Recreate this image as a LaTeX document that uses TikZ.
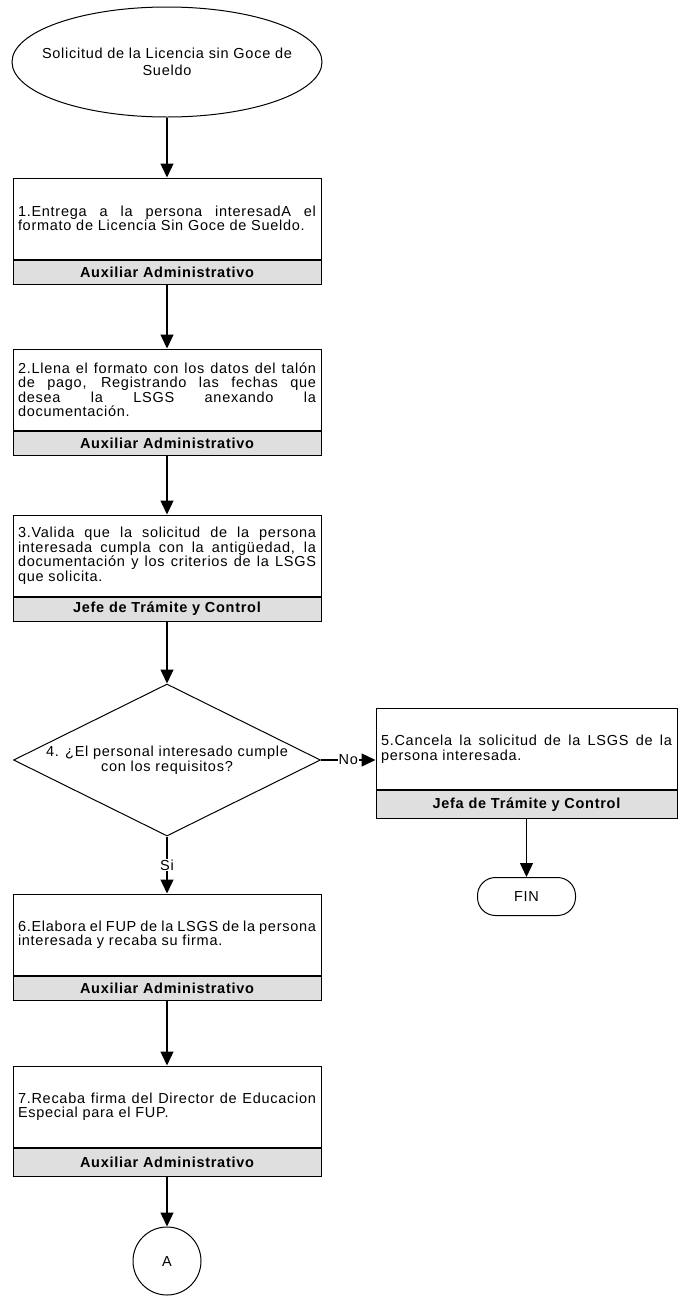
\documentclass[tikz,border=0pt]{standalone}
\usepackage{fontspec}
\setmainfont{Liberation Sans}[LetterSpace=5]
\usetikzlibrary{arrows.meta, shapes, shapes.geometric, positioning}
\hyphenpenalty=10000

\begin{document}
\begin{tikzpicture}[
        x=1pt, y=-1pt,
        every node/.style={align=center, font=\fontsize{14.5}{14.5}\selectfont},
        line/.style={-{Triangle[width=13pt,length=14pt]}, line width=1.3pt},
        task/.style={draw, line width=1pt, text width=298pt, inner xsep=5pt, minimum height=81pt, align=justify},
        role/.style={draw, line width=1pt, fill=gray!25, minimum width=308pt, minimum height=24pt, inner sep=0pt, font=\fontsize{14.5}{14.5}\selectfont\bfseries, below=0pt of #1},
    ]
    \useasboundingbox (0,0) rectangle (678,1302);
    % Nodes
    \node[ellipse, draw, line width=1pt, inner xsep=-20pt, inner ysep=0pt, minimum width=310pt, minimum height=110pt, font=\fontsize{14.5}{17}\selectfont] (inicio) at (167,62) {Solicitud de la Licencia sin Goce de\\Sueldo};
    \node[task, below=60pt of inicio] (t1) {1.Entrega a la persona interesadA el\linebreak formato de Licencia Sin Goce de Sueldo.};
    \node[role=t1] (r1) {Auxiliar Administrativo};
    \node[task, below=64pt of r1] (t2) {2.Llena el formato con los datos del talón\linebreak de pago, Registrando las fechas que\linebreak desea la LSGS anexando la\linebreak documentación.};
    \node[role=t2] (r2) {Auxiliar Administrativo};
    \node[task, below=59pt of r2] (t3) {3.Valida que la solicitud de la persona\linebreak interesada cumpla con la antigüedad, la\linebreak documentación y los criterios de la LSGS\linebreak que solicita.};
    \node[role=t3] (r3) {Jefe de Trámite y Control};
    \node[diamond, aspect=2, draw, line width=1pt, inner sep=0pt, minimum width=307pt, minimum height=152pt, below=62pt of r3] (d4) {4. ¿El personal interesado cumple\\con los requisitos?};
    \node[task, text width=291pt, anchor=north] (t5) at (526.5,708) {5.Cancela la solicitud de la LSGS de la\linebreak persona interesada.};
    \node[role=t5, minimum width=301pt, minimum height=28pt] (r5) {Jefa de Trámite y Control};
    \node[draw, line width=1pt, rounded corners=18pt, minimum width=98pt, minimum height=38pt, below=58pt of r5] (fin) {FIN};
    \node[task, below=57pt of d4] (t6) {6.Elabora el FUP de la LSGS de la persona\linebreak interesada y recaba su firma.};
    \node[role=t6] (r6) {Auxiliar Administrativo};
    \node[task, below=65pt of r6] (t7) {7.Recaba firma del Director de Educacion\linebreak Especial para el FUP.};
    \node[role=t7, minimum height=28pt] (r7) {Auxiliar Administrativo};
    \node[circle, draw, line width=1pt, minimum size=68pt, below=50pt of r7] (A) {A};
    % Arrows
    \draw[line] (inicio) -- (t1);
    \draw[line] (r1) -- (t2);
    \draw[line] (r2) -- (t3);
    \draw[line] (r3) -- (d4);
    \draw[line] (d4.east) -- node[fill=white, inner sep=1pt] {No} (d4.east -| t5.west);
    \draw[line] (d4) -- node[fill=white, inner sep=1pt] {Si} (t6);
    \draw[line] (r5) -- (fin);
    \draw[line] (r6) -- (t7);
    \draw[line] (r7) -- (A);
\end{tikzpicture}
\end{document}
